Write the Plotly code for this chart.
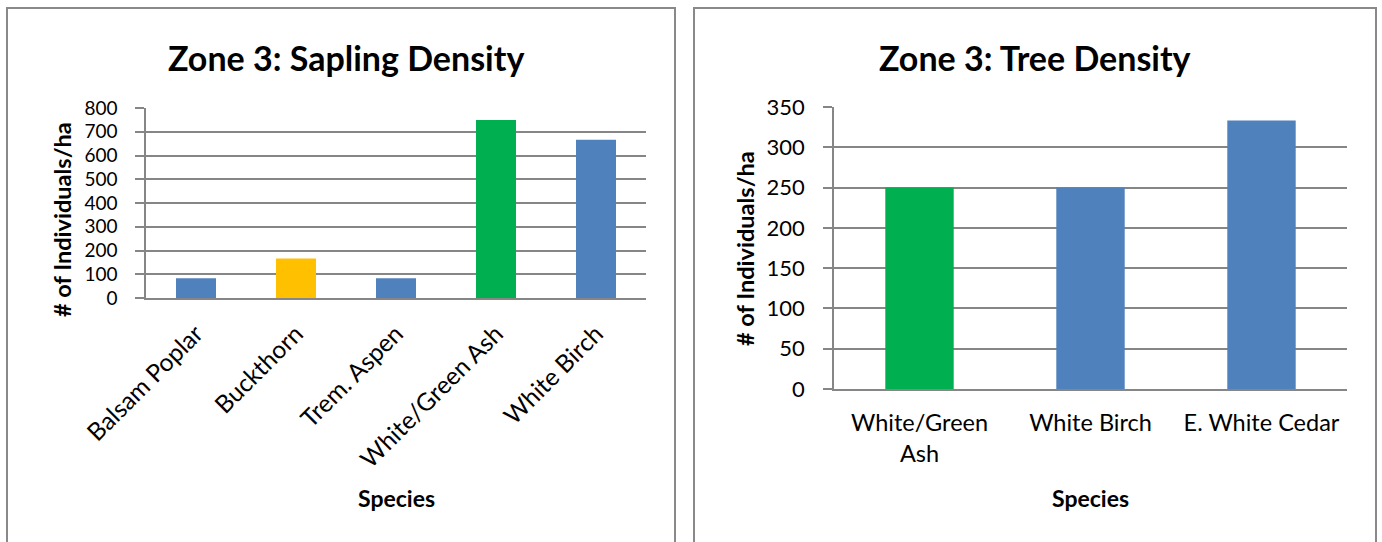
import plotly.graph_objects as go

W, H = 1382, 542

sap_species = ["Balsam Poplar", "Buckthorn", "Trem. Aspen", "White/Green Ash", "White Birch"]
sap_values = [83.33, 166.67, 83.33, 750.0, 666.67]
sap_colors = ["#4F81BD", "#FFC000", "#4F81BD", "#00B050", "#4F81BD"]
sap_ticks = [0, 100, 200, 300, 400, 500, 600, 700, 800]

tree_species = ["White/Green Ash", "White Birch", "E. White Cedar"]
tree_labels = ["White/Green<br>Ash", "White Birch", "E. White Cedar"]
tree_values = [250.0, 250.0, 333.33]
tree_colors = ["#00B050", "#4F81BD", "#4F81BD"]
tree_ticks = [0, 50, 100, 150, 200, 250, 300, 350]

FONT = "Lato"
GRID = "#868686"

def px(x):
    return x / W

def py(y):
    return 1 - y / H

fig = go.Figure()
fig.add_trace(go.Bar(x=sap_species, y=sap_values, marker=dict(color=sap_colors, line=dict(width=0)),
                     xaxis="x", yaxis="y", showlegend=False, hoverinfo="x+y"))
fig.add_trace(go.Bar(x=tree_species, y=tree_values, marker=dict(color=tree_colors, line=dict(width=0)),
                     xaxis="x2", yaxis="y2", showlegend=False, hoverinfo="x+y"))

common_y = dict(showgrid=True, gridcolor=GRID, gridwidth=1.5, zeroline=False,
                showline=True, linecolor=GRID, linewidth=1.5, ticks="outside",
                tickcolor=GRID, ticklen=9, tickwidth=1.5, color="#000000",
                ticklabelstandoff=14)
fig.update_layout(
    width=W, height=H, margin=dict(l=0, r=0, t=0, b=0, autoexpand=False),
    paper_bgcolor="white", plot_bgcolor="white", bargap=0.6,
    font=dict(family=FONT, color="#000000"),
    xaxis=dict(domain=[px(146), px(646)], anchor="y", tickangle=-45,
               tickfont=dict(size=24.5, family=FONT), showline=True, linecolor=GRID, linewidth=1.5,
               ticks="", showgrid=False, ticklabelstandoff=10),
    yaxis=dict(domain=[py(298), py(108)], anchor="x", range=[0, 800], tickvals=sap_ticks,
               tickfont=dict(size=19, family=FONT), **common_y),
    xaxis2=dict(domain=[px(834), px(1347)], anchor="y2", tickvals=tree_species, ticktext=tree_labels,
                tickangle=0, tickfont=dict(size=23.5, family=FONT), showline=True, linecolor=GRID,
                linewidth=1.5, ticks="", showgrid=False, ticklabelstandoff=12),
    yaxis2=dict(domain=[py(389), py(107)], anchor="x2", range=[0, 350], tickvals=tree_ticks,
                tickfont=dict(size=22, family=FONT), **common_y),
)

fig.add_shape(type="rect", xref="paper", yref="paper", x0=px(7), x1=px(675), y0=py(560), y1=py(8),
              line=dict(color="#898989", width=2), fillcolor="rgba(0,0,0,0)", layer="below")
fig.add_shape(type="rect", xref="paper", yref="paper", x0=px(694), x1=px(1376), y0=py(560), y1=py(8),
              line=dict(color="#898989", width=2), fillcolor="rgba(0,0,0,0)", layer="below")

def ann(text, x, y, size, bold=True, angle=0):
    fig.add_annotation(text=f"<b>{text}</b>" if bold else text, xref="paper", yref="paper",
                       x=px(x), y=py(y), xanchor="center", yanchor="middle", showarrow=False,
                       textangle=angle, font=dict(size=size, family=FONT, color="#000000"))

ann("Zone 3: Sapling Density", 346, 57, 34)
ann("Zone 3: Tree Density", 1035, 57, 34)
ann("# of Individuals/ha", 62, 220, 23.5, angle=-90)
ann("# of Individuals/ha", 745, 249, 23.5, angle=-90)
ann("Species", 397, 498, 23)
ann("Species", 1090, 498, 23)

fig.write_html("out.html")
